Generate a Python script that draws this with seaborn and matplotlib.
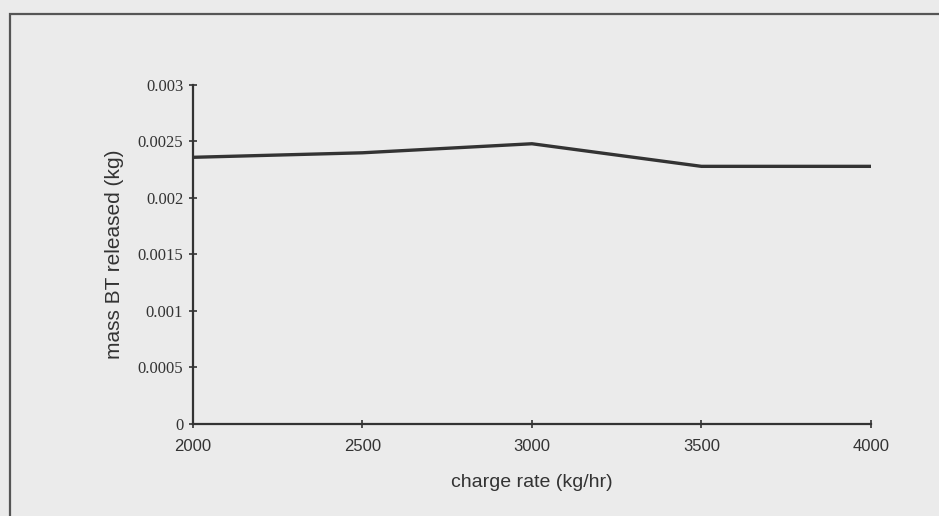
import matplotlib
matplotlib.use("Agg")
import matplotlib.pyplot as plt
import matplotlib.patches as mpatches
import seaborn as sns
import pandas as pd

charge_rate = [2000, 2500, 3000, 3500, 4000]
mass_bt = [0.00236, 0.00240, 0.00248, 0.00228, 0.00228]
y_ticks = [0, 0.0005, 0.001, 0.0015, 0.002, 0.0025, 0.003]
y_tick_labels = ["0", "0.0005", "0.001", "0.0015", "0.002", "0.0025", "0.003"]
x_ticks = [2000, 2500, 3000, 3500, 4000]

df = pd.DataFrame({"charge rate (kg/hr)": charge_rate, "mass BT released (kg)": mass_bt})

sns.set_theme(style="white")
plt.rcParams["font.family"] = ["Liberation Sans", "DejaVu Sans"]

bg = "#ebebeb"
ink = "#333333"

fig = plt.figure(figsize=(9.39, 5.16), dpi=100, facecolor=bg)
ax = fig.add_axes([0.2055, 0.1783, 0.722, 0.657])
ax.set_facecolor(bg)

sns.lineplot(data=df, x="charge rate (kg/hr)", y="mass BT released (kg)",
             ax=ax, color=ink, linewidth=2.4)

ax.set_xlim(2000, 4000)
ax.set_ylim(0, 0.003)
ax.set_xticks(x_ticks)
ax.set_xticklabels([str(v) for v in x_ticks], fontsize=12, color=ink)
ax.set_yticks(y_ticks)
ax.set_yticklabels(y_tick_labels, fontsize=12, color=ink, family="Liberation Serif")

ax.set_xlabel("charge rate (kg/hr)", fontsize=14, color=ink, labelpad=14)
ax.set_ylabel("mass BT released (kg)", fontsize=15, color=ink, labelpad=10)

for side in ["top", "right"]:
    ax.spines[side].set_visible(False)
for side in ["left", "bottom"]:
    ax.spines[side].set_color(ink)
    ax.spines[side].set_linewidth(1.6)
ax.tick_params(axis="both", direction="inout", length=6, width=1.2, color=ink,
               left=True, bottom=True, pad=4)
ax.tick_params(axis="x", pad=8)

# outer chart frame
frame = mpatches.Rectangle((10 / 939, -0.05), 1.1, 1 - 14 / 516 + 0.05,
                           transform=fig.transFigure, fill=False,
                           edgecolor="#555555", linewidth=1.6)
fig.patches.append(frame)

fig.savefig("out.png", dpi=100, facecolor=bg)
